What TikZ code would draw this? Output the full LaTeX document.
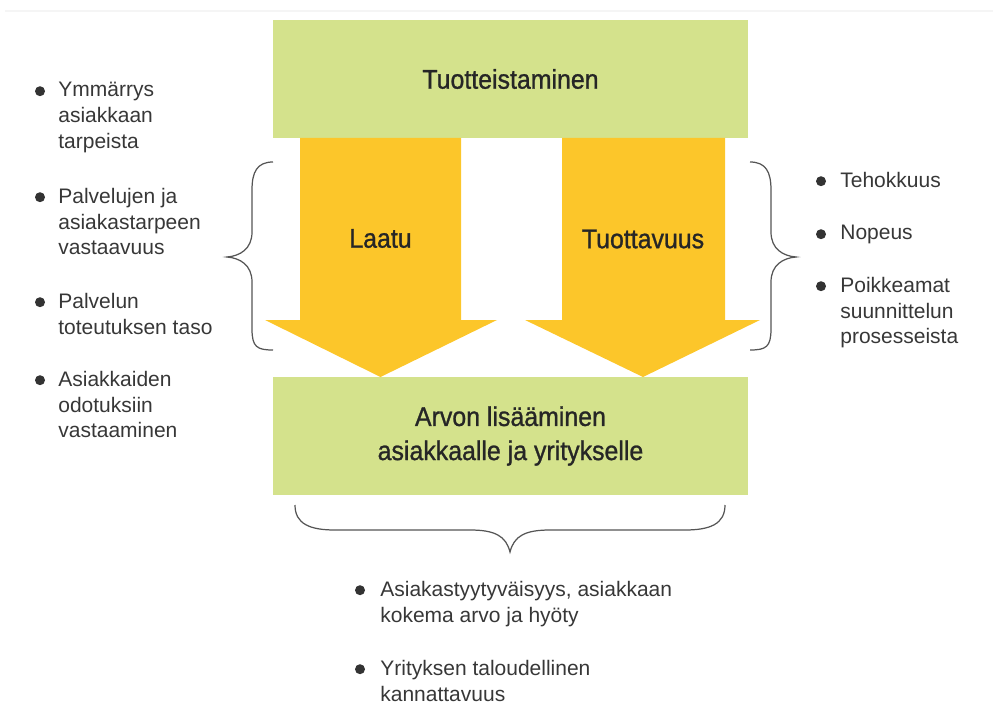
\documentclass[tikz,border=0pt]{standalone}
\usepackage{fontspec}
\setmainfont{Liberation Sans}
\newfontfamily\boxfont[FakeStretch=0.92,FakeBold=1]{Liberation Sans}
\definecolor{boxgreen}{RGB}{212,226,140}
\definecolor{arrowyellow}{RGB}{252,198,42}
\definecolor{txt}{RGB}{55,55,55}
\definecolor{bracegray}{RGB}{85,85,85}

\begin{document}
\begin{tikzpicture}[
  box/.style={rectangle, fill=boxgreen, minimum width=9.5cm, minimum height=2.36cm, align=center, text=black!85, font=\boxfont\fontsize{15.4}{19.4}\selectfont},
  lbl/.style={inner sep=0pt, text=black!85, font=\boxfont\fontsize{15.4}{19.4}\selectfont},
  item/.style={anchor=north west, align=left, inner sep=0pt, text=txt, font=\fontsize{11.95}{14.68}\selectfont},
  bul/.style={circle, fill=black!80, inner sep=0pt, minimum size=0.2cm},
  bigarrow/.style={fill=arrowyellow},
  brace/.style={draw=bracegray, line width=0.7pt}
]
\useasboundingbox (0,0) rectangle (19.86,-14.06);
\draw[black!4, line width=0.6pt] (0.1,-0.22) -- (19.86,-0.22);

% the two boxes
\node[box] (tuote) at (10.21,-1.58) {Tuotteistaminen};
\node[box] (arvo) at (10.21,-8.72) {Arvon lisääminen\\asiakkaalle ja yritykselle};

% big arrows
\fill[bigarrow] (6.00,-2.76) -- (9.22,-2.76) -- (9.22,-6.40) -- (9.94,-6.40)
  -- (7.61,-7.54) -- (5.30,-6.40) -- (6.00,-6.40) -- cycle;
\fill[bigarrow] (11.24,-2.76) -- (14.50,-2.76) -- (14.50,-6.40) -- (15.20,-6.40)
  -- (12.86,-7.54) -- (10.50,-6.40) -- (11.24,-6.40) -- cycle;
\node[lbl] (laatu) at (7.61,-4.77) {Laatu};
\node[lbl] (tuott) at (12.86,-4.78) {Tuottavuus};

% braces
\draw[brace] (5.46,-3.24) .. controls (5.14,-3.24) and (5.04,-3.44) .. (5.04,-3.80)
  -- (5.04,-4.64) .. controls (5.04,-4.98) and (4.80,-5.12) .. (4.54,-5.14)
  .. controls (4.80,-5.16) and (5.04,-5.30) .. (5.04,-5.64)
  -- (5.04,-6.58) .. controls (5.04,-6.94) and (5.14,-7.00) .. (5.46,-7.00);
\draw[brace] (15.00,-3.24) .. controls (15.32,-3.24) and (15.42,-3.44) .. (15.42,-3.80)
  -- (15.42,-4.64) .. controls (15.42,-4.98) and (15.66,-5.12) .. (15.92,-5.14)
  .. controls (15.66,-5.16) and (15.42,-5.30) .. (15.42,-5.64)
  -- (15.42,-6.58) .. controls (15.42,-6.94) and (15.32,-7.00) .. (15.00,-7.00);
\draw[brace] (5.90,-10.10) .. controls (5.90,-10.48) and (6.20,-10.60) .. (6.70,-10.60)
  -- (9.40,-10.60) .. controls (9.90,-10.60) and (10.12,-10.72) .. (10.20,-11.04)
  .. controls (10.28,-10.72) and (10.50,-10.60) .. (11.00,-10.60)
  -- (13.70,-10.60) .. controls (14.20,-10.60) and (14.50,-10.48) .. (14.50,-10.10);

% left list
\node[item] (l1) at (1.16,-1.634) {Ymmärrys\\asiakkaan\\tarpeista};
\node[item] (l2) at (1.16,-3.754) {Palvelujen ja\\asiakastarpeen\\vastaavuus};
\node[item] (l3) at (1.16,-5.854) {Palvelun\\toteutuksen taso};
\node[item] (l4) at (1.16,-7.414) {Asiakkaiden\\odotuksiin\\vastaaminen};

% right list
\node[item] (r1) at (16.80,-3.434) {Tehokkuus};
\node[item] (r2) at (16.80,-4.494) {Nopeus};
\node[item] (r3) at (16.80,-5.534) {Poikkeamat\\suunnittelun\\prosesseista};

% bottom list
\node[item] (b1) at (7.60,-11.614) {Asiakastyytyväisyys, asiakkaan\\kokema arvo ja hyöty};
\node[item] (b2) at (7.60,-13.194) {Yrityksen taloudellinen\\kannattavuus};

% bullets
\node[bul] (l1d) at ([xshift=-0.36cm,yshift=-0.19cm]l1.north west) {};
\node[bul] (l2d) at ([xshift=-0.36cm,yshift=-0.19cm]l2.north west) {};
\node[bul] (l3d) at ([xshift=-0.36cm,yshift=-0.19cm]l3.north west) {};
\node[bul] (l4d) at ([xshift=-0.36cm,yshift=-0.19cm]l4.north west) {};
\node[bul] (r1d) at ([xshift=-0.38cm,yshift=-0.19cm]r1.north west) {};
\node[bul] (r2d) at ([xshift=-0.38cm,yshift=-0.19cm]r2.north west) {};
\node[bul] (r3d) at ([xshift=-0.38cm,yshift=-0.19cm]r3.north west) {};
\node[bul] (b1d) at ([xshift=-0.40cm,yshift=-0.19cm]b1.north west) {};
\node[bul] (b2d) at ([xshift=-0.40cm,yshift=-0.19cm]b2.north west) {};
\end{tikzpicture}
\end{document}
